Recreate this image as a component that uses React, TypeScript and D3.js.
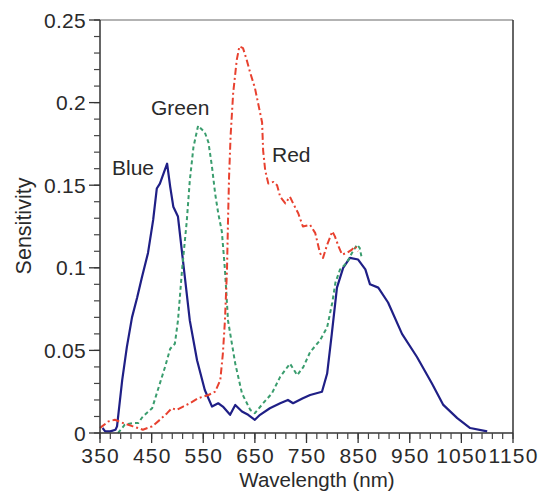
import React from "react";
import * as d3 from "d3";

// Spectral sensitivity of the blue, green and red channels
const blueWl = [355, 360, 370, 380, 383, 393, 402, 412, 422, 431, 443, 453, 460, 466, 480, 486, 492, 501, 509, 524, 538, 553, 567, 579, 588, 602, 612, 625, 637, 650, 660, 679, 699, 714, 724, 743, 757, 780, 790, 799, 809, 821, 834, 850, 864, 873, 889, 908, 935, 964, 993, 1015, 1042, 1067, 1100];
const blueSens = [0.003, 0.001, 0.001, 0.002, 0.004, 0.032, 0.052, 0.07, 0.082, 0.094, 0.109, 0.129, 0.148, 0.151, 0.163, 0.149, 0.137, 0.131, 0.109, 0.068, 0.044, 0.026, 0.016, 0.018, 0.016, 0.011, 0.017, 0.013, 0.011, 0.008, 0.011, 0.015, 0.018, 0.02, 0.018, 0.021, 0.023, 0.025, 0.036, 0.06, 0.088, 0.1, 0.106, 0.105, 0.099, 0.09, 0.088, 0.079, 0.06, 0.046, 0.03, 0.017, 0.009, 0.003, 0.001];

const greenWl = [385, 398, 414, 424, 433, 451, 460, 476, 486, 495, 501, 509, 518, 524, 531, 540, 553, 560, 567, 573, 579, 586, 592, 598, 612, 625, 641, 650, 666, 683, 699, 718, 732, 744, 757, 776, 790, 800, 806, 815, 828, 838, 848, 853, 857];
const greenSens = [0.0, 0.005, 0.006, 0.006, 0.01, 0.015, 0.024, 0.04, 0.051, 0.054, 0.068, 0.099, 0.128, 0.153, 0.173, 0.186, 0.182, 0.176, 0.161, 0.145, 0.133, 0.122, 0.099, 0.068, 0.042, 0.024, 0.014, 0.012, 0.018, 0.024, 0.034, 0.042, 0.035, 0.04, 0.049, 0.056, 0.064, 0.079, 0.091, 0.099, 0.103, 0.109, 0.114, 0.112, 0.106];

const redWl = [350, 354, 366, 379, 395, 414, 433, 451, 466, 480, 489, 499, 511, 524, 540, 560, 573, 583, 588, 592, 596, 598, 600, 603, 608, 615, 620, 627, 634, 641, 650, 656, 664, 666, 670, 676, 686, 693, 699, 709, 718, 724, 734, 743, 757, 767, 776, 782, 790, 800, 805, 812, 819, 828, 838, 844, 850];
const redSens = [0.003, 0.004, 0.007, 0.008, 0.006, 0.004, 0.002, 0.004, 0.008, 0.012, 0.015, 0.014, 0.016, 0.018, 0.021, 0.023, 0.025, 0.032, 0.048, 0.068, 0.099, 0.129, 0.155, 0.18, 0.206, 0.226, 0.234, 0.233, 0.226, 0.218, 0.209, 0.2, 0.188, 0.171, 0.159, 0.151, 0.152, 0.15, 0.143, 0.139, 0.143, 0.139, 0.133, 0.125, 0.126, 0.121, 0.109, 0.106, 0.114, 0.122, 0.119, 0.113, 0.108, 0.109, 0.111, 0.113, 0.11];

const xTicks = [350, 450, 550, 650, 750, 850, 950, 1050, 1150];
const yTicks = [0, 0.05, 0.1, 0.15, 0.2, 0.25];
const yTickLabels = ["0", "0.05", "0.1", "0.15", "0.2", "0.25"];

const seriesNames = ["Blue", "Green", "Red"];

const W = 540;
const H = 499;
const left = 100;
const right = 513;
const top = 20;
const bottom = 433;
const font = "'Liberation Sans', Arial, Helvetica, sans-serif";
const textColor = "#2a2a2a";

export default function App() {
  const x = d3.scaleLinear().domain([350, 1150]).range([left, right]);
  const y = d3.scaleLinear().domain([0, 0.25]).range([bottom, top]);

  const line = d3
    .line<[number, number]>()
    .x((d) => x(d[0]))
    .y((d) => y(d[1]));

  const zip = (a: number[], b: number[]) => a.map((w, i) => [w, b[i]] as [number, number]);

  const xMinor = d3.range(350, 1150.1, 20);
  const yMinor = d3.range(0, 0.2501, 0.01);

  const series = [
    { name: seriesNames[0], data: zip(blueWl, blueSens), color: "#1f1f86", dash: undefined, width: 2.2, lx: 112, ly: 175 },
    { name: seriesNames[1], data: zip(greenWl, greenSens), color: "#3a9d6e", dash: "4,3", width: 2, lx: 151, ly: 115 },
    { name: seriesNames[2], data: zip(redWl, redSens), color: "#e8412f", dash: "7,3,2,3", width: 2, lx: 272, ly: 162 },
  ];

  return (
    <svg
      width={W}
      height={H}
      style={{ position: "absolute", left: 0, top: 0, background: "#fff" }}
      fontFamily={font}
    >
      {/* frame */}
      <line x1={left} x2={right} y1={top} y2={top} stroke="#9a9a9a" strokeWidth={1.5} />
      <line x1={right} x2={right} y1={top} y2={bottom} stroke="#333" strokeWidth={1.5} />

      {/* curves */}
      {series.map((s) => (
        <path
          key={s.name}
          d={line(s.data) || ""}
          fill="none"
          stroke={s.color}
          strokeWidth={s.width}
          strokeDasharray={s.dash}
          strokeLinejoin="round"
        />
      ))}

      {/* x axis */}
      <line x1={left} x2={right} y1={bottom} y2={bottom} stroke="#333" strokeWidth={1.5} />
      {xMinor.map((v) => (
        <line key={"xm" + v} x1={x(v)} x2={x(v)} y1={bottom} y2={bottom + 6} stroke="#444" strokeWidth={1.2} />
      ))}
      {xTicks.map((v) => (
        <g key={"xt" + v}>
          <line x1={x(v)} x2={x(v)} y1={bottom} y2={bottom + 10} stroke="#333" strokeWidth={1.3} />
          <text x={x(v) + 0.6} y={463} textAnchor="middle" fontSize={21} letterSpacing={1.2} fill={textColor}>
            {v}
          </text>
        </g>
      ))}
      <text x={317} y={487} textAnchor="middle" fontSize={20.5} fill={textColor}>
        Wavelength (nm)
      </text>

      {/* y axis */}
      <line x1={left} x2={left} y1={top} y2={bottom} stroke="#333" strokeWidth={1.5} />
      {yMinor.map((v, i) => (
        <line key={"ym" + i} x1={left - 6} x2={left} y1={y(v)} y2={y(v)} stroke="#444" strokeWidth={1.2} />
      ))}
      {yTicks.map((v, i) => (
        <g key={"yt" + i}>
          <line x1={left - 11} x2={left} y1={y(v)} y2={y(v)} stroke="#333" strokeWidth={1.3} />
          <text x={86} y={y(v) + 7.5} textAnchor="end" fontSize={21} letterSpacing={0.3} fill={textColor}>
            {yTickLabels[i]}
          </text>
        </g>
      ))}
      <text
        transform={`translate(31,226) rotate(-90)`}
        textAnchor="middle"
        fontSize={21.5}
        fill={textColor}
      >
        Sensitivity
      </text>

      {/* series labels */}
      {series.map((s) => (
        <text key={"lbl" + s.name} x={s.lx} y={s.ly} fontSize={21} fill={textColor}>
          {s.name}
        </text>
      ))}
    </svg>
  );
}
